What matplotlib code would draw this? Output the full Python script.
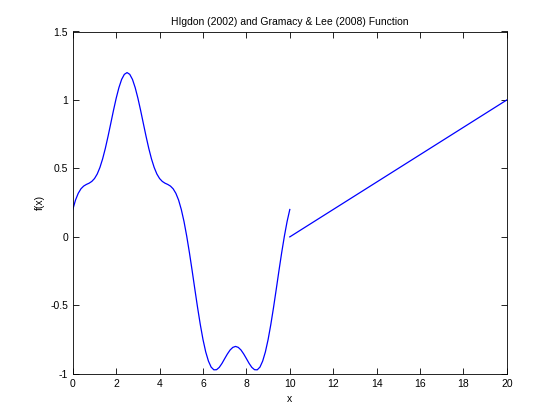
import matplotlib
matplotlib.use("Agg")
import matplotlib.pyplot as plt

# left piece, every 0.125
x_left = [0, 0.125, 0.25, 0.375, 0.5, 0.625, 0.75, 0.875, 1.0, 1.125, 1.25, 1.375,
          1.5, 1.625, 1.75, 1.875, 2.0, 2.125, 2.25, 2.375, 2.5, 2.625, 2.75, 2.875,
          3.0, 3.125, 3.25, 3.375, 3.5, 3.625, 3.75, 3.875, 4.0, 4.125, 4.25, 4.375,
          4.5, 4.625, 4.75, 4.875, 5.0, 5.125, 5.25, 5.375, 5.5, 5.625, 5.75, 5.875,
          6.0, 6.125, 6.25, 6.375, 6.5, 6.625, 6.75, 6.875, 7.0, 7.125, 7.25, 7.375,
          7.5, 7.625, 7.75, 7.875, 8.0, 8.125, 8.25, 8.375, 8.5, 8.625, 8.75, 8.875,
          9.0, 9.125, 9.25, 9.375, 9.5, 9.625, 9.75, 9.875, 10.0]
y_left = [0.200, 0.269, 0.318, 0.351, 0.371, 0.383, 0.392, 0.405, 0.426, 0.459, 0.507,
          0.570, 0.647, 0.735, 0.829, 0.924, 1.013, 1.090, 1.150, 1.187, 1.200, 1.187,
          1.150, 1.090, 1.013, 0.924, 0.829, 0.735, 0.647, 0.570, 0.507, 0.459, 0.426,
          0.405, 0.392, 0.383, 0.371, 0.351, 0.318, 0.269, 0.200, 0.112, 0.005, -0.116,
          -0.247, -0.383, -0.516, -0.640, -0.750, -0.840, -0.907, -0.951, -0.971,
          -0.970, -0.953, -0.924, -0.889, -0.855, -0.826, -0.807, -0.800, -0.807,
          -0.826, -0.855, -0.889, -0.924, -0.953, -0.970, -0.971, -0.951, -0.907,
          -0.840, -0.750, -0.640, -0.516, -0.383, -0.247, -0.116, 0.005, 0.112, 0.200]

# right piece (straight line)
x_right = [10, 20]
y_right = [0, 1]

plt.rcParams['font.family'] = ['Liberation Sans', 'DejaVu Sans']

fig = plt.figure(figsize=(5.6, 4.2), dpi=100)
ax = fig.add_axes([0.13, 0.11, 0.775, 0.815])
ax.plot(x_left, y_left, color='#0000ff', linewidth=0.9)
ax.plot(x_right, y_right, color='#0000ff', linewidth=0.9)

ax.set_xlim(0, 20)
ax.set_ylim(-1, 1.5)
ax.set_xticks(range(0, 21, 2))
ax.set_yticks([-1, -0.5, 0, 0.5, 1, 1.5])
ax.set_yticklabels(['-1', '-0.5', '0', '0.5', '1', '1.5'])
ax.tick_params(direction='in', top=True, right=True, labelsize=7.5, length=4, width=0.6)
for s in ax.spines.values():
    s.set_linewidth(0.6)

ax.set_title('HIgdon (2002) and Gramacy & Lee (2008) Function', fontsize=7.5, pad=5)
ax.set_xlabel('x', fontsize=7.5)
ax.set_ylabel('f(x)', fontsize=7.5)

fig.savefig('out.png', dpi=100)
